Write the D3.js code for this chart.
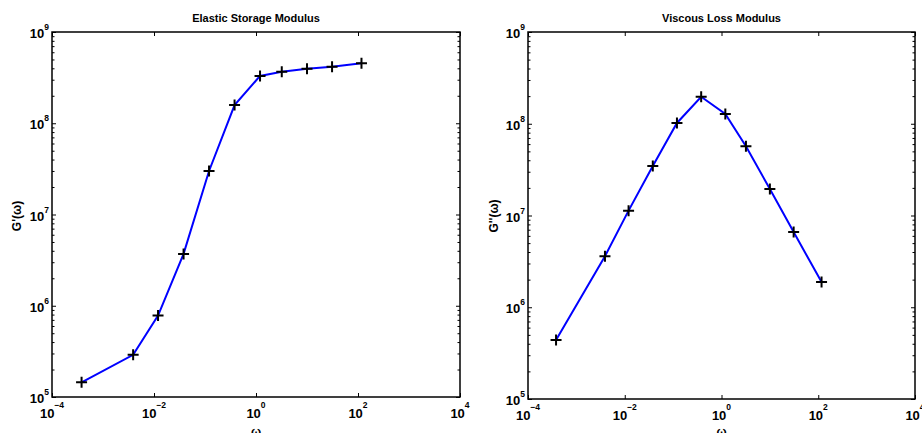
<!DOCTYPE html>
<html>
<head>
<meta charset="utf-8">
<script src="https://cdn.jsdelivr.net/npm/d3@7"></script>
<style>
  html, body { margin: 0; padding: 0; background: #fff; }
  svg { display: block; }
  text { font-family: "Liberation Sans", Arial, sans-serif; font-weight: bold; fill: #000; }
</style>
</head>
<body>
<svg id="chart" width="922" height="433"></svg>
<script>
// ---- data ----
const omega = [3.8e-4, 3.9e-3, 0.012, 0.038, 0.12, 0.38, 1.2, 3.2, 10, 31, 117];
const storageModulus = [1.45e5, 2.9e5, 7.8e5, 3.7e6, 3.0e7, 1.58e8, 3.3e8, 3.67e8, 3.96e8, 4.17e8, 4.54e8];
const lossModulus = [4.4e5, 3.6e6, 1.13e7, 3.47e7, 1.02e8, 1.97e8, 1.28e8, 5.7e7, 1.94e7, 6.6e6, 1.88e6];
const xTickExponents = [-4, -2, 0, 2, 4];
const yTickExponents = [5, 6, 7, 8, 9];
const titles = ["Elastic Storage Modulus", "Viscous Loss Modulus"];
const yLabels = ["G'(\u03c9)", "G''(\u03c9)"];
const xLabel = "\u03c9";

const svg = d3.select("#chart");

const panels = [
  { x0: 52, x1: 460, y0: 32, y1: 397, values: storageModulus, title: titles[0], ylab: yLabels[0], ylx: 17, yly: 216 },
  { x0: 528, x1: 915, y0: 32, y1: 399, values: lossModulus, title: titles[1], ylab: yLabels[1], ylx: 494, yly: 216 }
];

function supLabel(sel, exp) {
  sel.append("tspan").text("10");
}

panels.forEach(p => {
  const x = d3.scaleLog().domain([1e-4, 1e4]).range([p.x0, p.x1]);
  const y = d3.scaleLog().domain([1e5, 1e9]).range([p.y1, p.y0]);
  const g = svg.append("g");

  const xMajor = xTickExponents.map(e => Math.pow(10, e));
  const yMajor = yTickExponents.map(e => Math.pow(10, e));
  const yMinor = [];
  for (let e = 5; e < 9; e++) for (let k = 2; k <= 9; k++) yMinor.push(k * Math.pow(10, e));

  const tickStyle = s => { s.select(".domain").remove(); s.selectAll("line").attr("stroke", "#000").attr("stroke-width", 1); };

  // x ticks bottom and top (inward)
  g.append("g").attr("transform", `translate(0,${p.y1})`)
    .call(d3.axisBottom(x).tickValues(xMajor).tickSize(-4).tickFormat("")).call(tickStyle);
  g.append("g").attr("transform", `translate(0,${p.y0})`)
    .call(d3.axisTop(x).tickValues(xMajor).tickSize(-4).tickFormat("")).call(tickStyle);
  // y ticks left and right (inward), major + minor
  g.append("g").attr("transform", `translate(${p.x0},0)`)
    .call(d3.axisLeft(y).tickValues(yMajor).tickSize(-4).tickFormat("")).call(tickStyle);
  g.append("g").attr("transform", `translate(${p.x0},0)`)
    .call(d3.axisLeft(y).tickValues(yMinor).tickSize(-2.5).tickFormat("")).call(tickStyle);
  g.append("g").attr("transform", `translate(${p.x1},0)`)
    .call(d3.axisRight(y).tickValues(yMajor).tickSize(-4).tickFormat("")).call(tickStyle);
  g.append("g").attr("transform", `translate(${p.x1},0)`)
    .call(d3.axisRight(y).tickValues(yMinor).tickSize(-2.5).tickFormat("")).call(tickStyle);

  // frame
  g.append("rect").attr("x", p.x0).attr("y", p.y0)
    .attr("width", p.x1 - p.x0).attr("height", p.y1 - p.y0)
    .attr("fill", "none").attr("stroke", "#000").attr("stroke-width", 1.5);

  // x tick labels
  xTickExponents.forEach(e => {
    const t = g.append("text").attr("x", x(Math.pow(10, e))).attr("y", p.y1 + 21)
      .attr("text-anchor", "middle").style("font-size", "13px");
    t.append("tspan").text("10");
    t.append("tspan").attr("dy", -10).style("font-size", "8.5px").text(e < 0 ? "\u2212" + (-e) : String(e));
  });
  // y tick labels
  yTickExponents.forEach(e => {
    const t = g.append("text").attr("x", p.x0 - 3).attr("y", y(Math.pow(10, e)) + 6)
      .attr("text-anchor", "end").style("font-size", "13px");
    t.append("tspan").text("10");
    t.append("tspan").attr("dy", -8).style("font-size", "8.5px").text(String(e));
  });

  // title
  g.append("text").attr("x", (p.x0 + p.x1) / 2).attr("y", 22)
    .attr("text-anchor", "middle").style("font-size", "11px").text(p.title);
  // y label
  g.append("text").attr("transform", `translate(${p.ylx + 4},${p.yly}) rotate(-90)`)
    .attr("text-anchor", "middle").style("font-size", "12px").text(p.ylab);
  // x label
  g.append("text").attr("x", (p.x0 + p.x1) / 2).attr("y", 436)
    .attr("text-anchor", "middle").style("font-size", "12px").text(xLabel);

  // line
  const pts = omega.map((w, i) => [w, p.values[i]]);
  g.append("path").datum(pts)
    .attr("d", d3.line().x(d => x(d[0])).y(d => y(d[1])))
    .attr("fill", "none").attr("stroke", "#0000ff").attr("stroke-width", 2);

  // plus markers
  const s = 5.5;
  g.selectAll(null).data(pts).enter().append("path")
    .attr("d", d => {
      const cx = x(d[0]), cy = y(d[1]);
      return `M${cx - s},${cy}H${cx + s}M${cx},${cy - s}V${cy + s}`;
    })
    .attr("stroke", "#000").attr("stroke-width", 2).attr("fill", "none");
});
</script>
</body>
</html>
